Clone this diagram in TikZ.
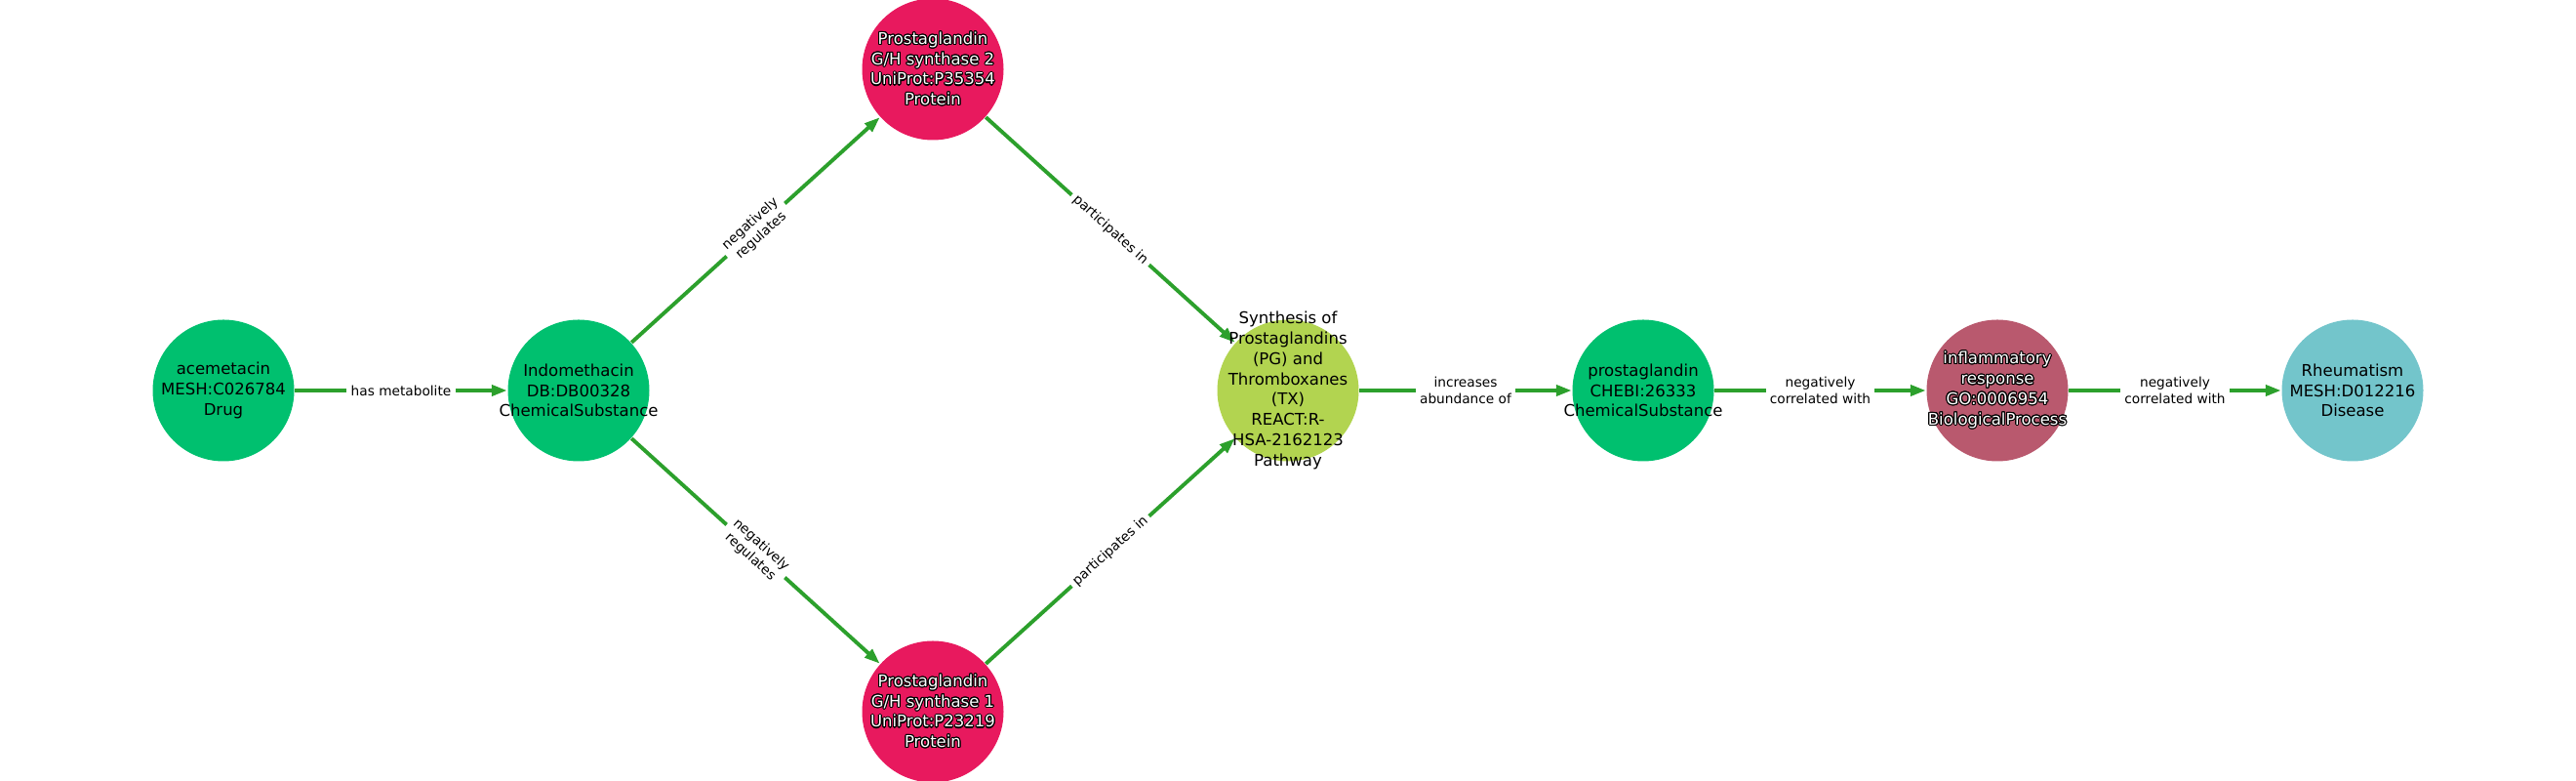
\documentclass[tikz,border=0pt]{standalone}
\usepackage{fontspec}
\setmainfont{DejaVu Sans}
\usepackage[copies]{contour}
\contourlength{0.3pt}
\contournumber{16}
\usetikzlibrary{arrows.meta}
\definecolor{chem}{HTML}{00C06F}
\definecolor{prot}{HTML}{E8195E}
\definecolor{path}{HTML}{B2D450}
\definecolor{bio}{HTML}{B9596E}
\definecolor{dis}{HTML}{73C5CB}
\definecolor{egreen}{HTML}{2CA02C}
\newcommand{\wl}[1]{\contour{black}{#1}}
\tikzset{
  nd/.style={circle, minimum size=1.45cm, inner sep=0pt, fill=#1},
  nt/.style={align=center, font=\fontsize{4.7}{5.9}\selectfont, inner sep=0pt},
  ntw/.style={nt, text=white},
  el/.style={font=\fontsize{3.9}{4.7}\selectfont, fill=white, inner sep=1.2pt, align=center},
  ed/.style={draw=egreen, line width=1.1pt, -{Triangle[length=1.6mm,width=1.1mm]}},
}
\begin{document}
\begin{tikzpicture}
\useasboundingbox (0,0) rectangle (26.4,8);
\clip (0,0) rectangle (26.4,8);
\node[nd=chem] (ace) at (2.29,4.0) {};
\node[nd=chem] (ind) at (5.93,4.0) {};
\node[nd=prot] (p2) at (9.56,7.29) {};
\node[nd=prot] (p1) at (9.56,0.71) {};
\node[nd=path] (syn) at (13.20,4.0) {};
\node[nd=chem] (pg) at (16.84,4.0) {};
\node[nd=bio] (inf) at (20.47,4.0) {};
\node[nd=dis] (rh) at (24.11,4.0) {};

\draw[ed] (ace) -- node[el] {has metabolite} (ind);
\draw[ed] (ind) -- node[el, sloped] {negatively\\regulates} (p2);
\draw[ed] (ind) -- node[el, sloped] {negatively\\regulates} (p1);
\draw[ed] (p2) -- node[el, sloped] {participates in} (syn);
\draw[ed] (p1) -- node[el, sloped] {participates in} (syn);
\draw[ed] (syn) -- node[el] {increases\\abundance of} (pg);
\draw[ed] (pg) -- node[el] {negatively\\correlated with} (inf);
\draw[ed] (inf) -- node[el] {negatively\\correlated with} (rh);

\node[nt] (acet) at (ace.center) {acemetacin\\MESH:C026784\\Drug};
\node[nt] (indt) at (ind.center) {Indomethacin\\DB:DB00328\\ChemicalSubstance};
\node[ntw] (p2t) at (p2.center) {\wl{Prostaglandin}\\\wl{G/H synthase 2}\\\wl{UniProt:P35354}\\\wl{Protein}};
\node[ntw] (p1t) at (p1.center) {\wl{Prostaglandin}\\\wl{G/H synthase 1}\\\wl{UniProt:P23219}\\\wl{Protein}};
\node[nt] (synt) at (syn.center) {Synthesis of\\Prostaglandins\\(PG) and\\Thromboxanes\\(TX)\\REACT:R-\\HSA-2162123\\Pathway};
\node[nt] (pgt) at (pg.center) {prostaglandin\\CHEBI:26333\\ChemicalSubstance};
\node[ntw] (inft) at (inf.center) {\wl{inflammatory}\\\wl{response}\\\wl{GO:0006954}\\\wl{BiologicalProcess}};
\node[nt] (rht) at (rh.center) {Rheumatism\\MESH:D012216\\Disease};
\end{tikzpicture}
\end{document}
